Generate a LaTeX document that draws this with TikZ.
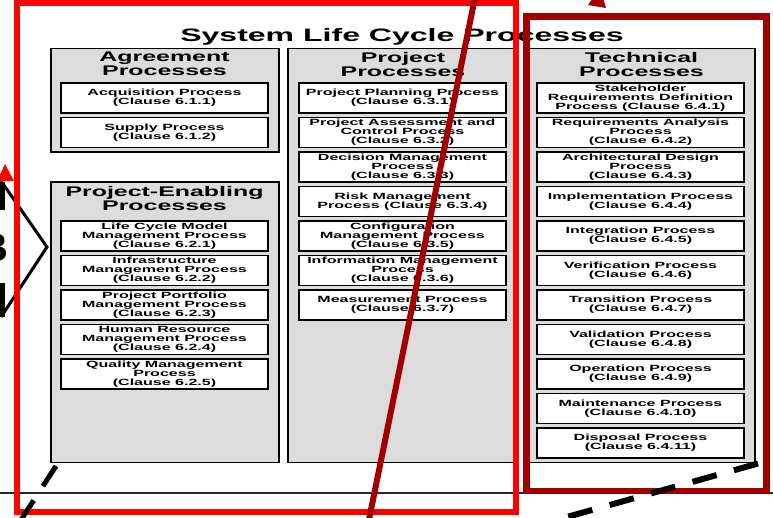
\documentclass[tikz,border=0pt]{standalone}
\usepackage{fontspec}
\setmainfont{Liberation Sans}[FakeStretch=1.78]
\newfontfamily\tagfont{Liberation Sans}
\usepackage{tikz}
\definecolor{groupgray}{HTML}{DCDCDC}
\definecolor{zoomred}{RGB}{255,0,0}
\definecolor{darkzoom}{RGB}{160,0,0}

\begin{document}
\begin{tikzpicture}[x=1pt,y=-1pt,
  group/.style={rectangle,draw=black,fill=groupgray,line width=1.3pt,inner sep=0pt},
  proc/.style={rectangle,draw=black,fill=white,line width=1.2pt,minimum width=207pt,
    minimum height=30pt,inner sep=0pt,align=center,font=\fontsize{9}{9}\selectfont\bfseries},
  head/.style={align=center,inner sep=0pt,font=\fontsize{14}{14}\selectfont\bfseries},
]
  \fill[white] (0,0) rectangle (773,517);
  \useasboundingbox (0,0) rectangle (773,517);
  \draw[line width=1.6pt,black!85] (0,493) -- (773,493);

  % process groups
  \node[group,minimum width=228pt,minimum height=103.5pt] (agrcol) at (165,100.25) {};
  \node[group,minimum width=228pt,minimum height=280.5pt] (pecol) at (165,322.25) {};
  \node[group,minimum width=226pt,minimum height=414pt] (prjcol) at (401,255.5) {};
  \node[group,minimum width=226pt,minimum height=414pt] (teccol) at (642,255.5) {};

  \node[font=\fontsize{18}{18}\selectfont\bfseries,anchor=base,inner sep=0pt] (title) at (402,41)
    {System Life Cycle Processes};
  \node[head] (agrhead) at (164.5,64) {Agreement\\Processes};
  \node[head] (pehead) at (164.5,198.5) {Project-Enabling\\Processes};
  \node[head] (prjhead) at (403,64) {Project\\Processes};
  \node[head] (techead) at (641.5,64) {Technical\\Processes};

  \foreach \txt [count=\i] in {{Acquisition Process\\(Clause 6.1.1)},
      {Supply Process\\(Clause 6.1.2)}}
    \node[proc] (agr\i) at (164.5,{98+(\i-1)*34.5}) {\txt};
  \foreach \txt [count=\i] in {{Life Cycle Model\\Management Process\\(Clause 6.2.1)},
      {Infrastructure\\Management Process\\(Clause 6.2.2)},
      {Project Portfolio\\Management Process\\(Clause 6.2.3)},
      {Human Resource\\Management Process\\(Clause 6.2.4)},
      {Quality Management\\Process\\(Clause 6.2.5)}}
    \node[proc] (pe\i) at (164.5,{236+(\i-1)*34.5}) {\txt};
  \foreach \txt [count=\i] in {{Project Planning Process\\(Clause 6.3.1)},
      {Project Assessment and\\Control Process\\(Clause 6.3.2)},
      {Decision Management\\Process\\(Clause 6.3.3)},
      {Risk Management\\Process (Clause 6.3.4)},
      {Configuration\\Management Process\\(Clause 6.3.5)},
      {Information Management\\Process\\(Clause 6.3.6)},
      {Measurement Process\\(Clause 6.3.7)}}
    \node[proc] (prj\i) at (402.5,{98+(\i-1)*34.5}) {\txt};
  \foreach \txt [count=\i] in {{Stakeholder\\Requirements Definition\\Process (Clause 6.4.1)},
      {Requirements Analysis\\Process\\(Clause 6.4.2)},
      {Architectural Design\\Process\\(Clause 6.4.3)},
      {Implementation Process\\(Clause 6.4.4)},
      {Integration Process\\(Clause 6.4.5)},
      {Verification Process\\(Clause 6.4.6)},
      {Transition Process\\(Clause 6.4.7)},
      {Validation Process\\(Clause 6.4.8)},
      {Operation Process\\(Clause 6.4.9)},
      {Maintenance Process\\(Clause 6.4.10)},
      {Disposal Process\\(Clause 6.4.11)}}
    \node[proc] (tec\i) at (640.5,{98+(\i-1)*34.5}) {\txt};

  % cut-off marker on the left
  \draw[line width=3pt] (1,181) -- (47,247) -- (1,317);
  \draw[line width=5pt] (2,182) -- (2,210) (2,283) -- (2,317);
  \node[font=\tagfont\bfseries\fontsize{40}{40}\selectfont,anchor=east,inner sep=0pt] (tag) at (9,247.5) {B};

  % highlight frames
  \draw[zoomred,line width=6pt] (17,3) rectangle (516,512);
  \fill[zoomred] (-3,181) -- (14,181) -- (5,164) -- cycle;
  \draw[darkzoom,line width=6.5pt] (526.5,16.5) rectangle (766.5,491);
  \draw[darkzoom,line width=6pt] (475.5,-5) -- (368.5,522);
  \fill[darkzoom] (588,5) -- (606,8) -- (600,-12) -- cycle;

  \draw[line width=5pt,dash pattern=on 24pt off 17pt] (56,466) -- (19.6,522);
  \draw[line width=6pt,dash pattern=on 25pt off 18pt] (758,463.5) -- (550,521.7);
\end{tikzpicture}
\end{document}
